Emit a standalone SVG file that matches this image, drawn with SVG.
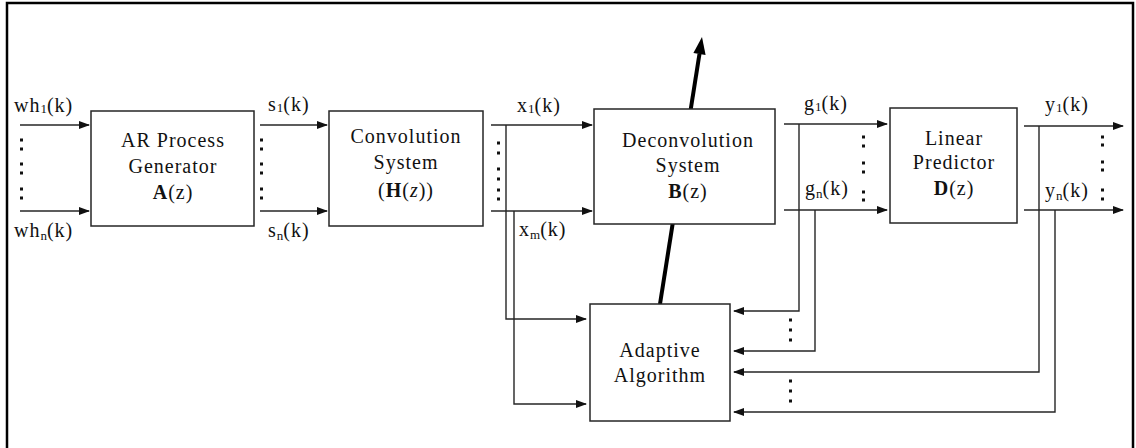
<svg xmlns="http://www.w3.org/2000/svg" width="1136" height="448" viewBox="0 0 1136 448">
<style>
.box{fill:#fff;stroke:#262626;stroke-width:1.5}
.ln{fill:none;stroke:#262626;stroke-width:1.4}
.t{font-family:"Liberation Serif","Times New Roman",serif;font-size:20px;letter-spacing:1px;fill:#111}
.c{text-anchor:middle}
.s{font-size:13px;letter-spacing:0}
.d{fill:#111}
</style>
<defs>
<marker id="ah" markerUnits="userSpaceOnUse" markerWidth="12" markerHeight="10" refX="10" refY="4" orient="auto">
<path d="M0,0 L11,4 L0,8 z" fill="#111"/>
</marker>
</defs>
<rect x="7" y="3" width="1126" height="460" fill="#fff" stroke="#000" stroke-width="2.5"/>
<g id="connectors">
<line x1="660" y1="304" x2="699.5" y2="53.8" stroke="#000" stroke-width="4"/>
<polygon points="702,37 705.6,55 693.4,53" fill="#000"/>
<line class="ln" x1="20" y1="125" x2="89" y2="125" marker-end="url(#ah)"/>
<line class="ln" x1="20" y1="211" x2="89" y2="211" marker-end="url(#ah)"/>
<line class="ln" x1="260" y1="125" x2="327" y2="125" marker-end="url(#ah)"/>
<line class="ln" x1="260" y1="211" x2="327" y2="211" marker-end="url(#ah)"/>
<line class="ln" x1="491" y1="125" x2="592" y2="125" marker-end="url(#ah)"/>
<line class="ln" x1="491" y1="211" x2="592" y2="211" marker-end="url(#ah)"/>
<line class="ln" x1="784" y1="124" x2="887" y2="124" marker-end="url(#ah)"/>
<line class="ln" x1="784" y1="210" x2="887" y2="210" marker-end="url(#ah)"/>
<line class="ln" x1="1024" y1="126" x2="1123" y2="126" marker-end="url(#ah)"/>
<line class="ln" x1="1024" y1="210" x2="1123" y2="210" marker-end="url(#ah)"/>
<polyline class="ln" points="506,125 506,319 586,319" marker-end="url(#ah)"/>
<polyline class="ln" points="514,211 514,404 586,404" marker-end="url(#ah)"/>
<polyline class="ln" points="799,124 799,311 734,311" marker-end="url(#ah)"/>
<polyline class="ln" points="815,210 815,351 734,351" marker-end="url(#ah)"/>
<polyline class="ln" points="1039,126 1039,372 734,372" marker-end="url(#ah)"/>
<polyline class="ln" points="1055,210 1055,412 734,412" marker-end="url(#ah)"/>
</g>
<g id="dots" class="d">
<rect x="20" y="138.5" width="3" height="3"/><rect x="20" y="147.5" width="3" height="3"/>
<rect x="20" y="162.5" width="3" height="3"/><rect x="20" y="171.5" width="3" height="3"/>
<rect x="20" y="187.5" width="3" height="3"/><rect x="20" y="196.5" width="3" height="3"/>
<rect x="260" y="138.5" width="3" height="3"/><rect x="260" y="147.5" width="3" height="3"/>
<rect x="260" y="162.5" width="3" height="3"/><rect x="260" y="171.5" width="3" height="3"/>
<rect x="260" y="187.5" width="3" height="3"/><rect x="260" y="196.5" width="3" height="3"/>
<rect x="497" y="141.5" width="3" height="3"/><rect x="497" y="151.5" width="3" height="3"/>
<rect x="497" y="167.5" width="3" height="3"/><rect x="497" y="177.5" width="3" height="3"/>
<rect x="497" y="188.5" width="3" height="3"/><rect x="497" y="197.5" width="3" height="3"/>
<rect x="862" y="135.5" width="3" height="3"/><rect x="862" y="144.5" width="3" height="3"/>
<rect x="862" y="161.5" width="3" height="3"/><rect x="862" y="170.5" width="3" height="3"/>
<rect x="862" y="190.5" width="3" height="3"/><rect x="862" y="198.5" width="3" height="3"/>
<rect x="1101" y="135.5" width="3" height="3"/><rect x="1101" y="143.5" width="3" height="3"/>
<rect x="1101" y="160.5" width="3" height="3"/><rect x="1101" y="168.5" width="3" height="3"/>
<rect x="1101" y="188.5" width="3" height="3"/><rect x="1101" y="197.5" width="3" height="3"/>
<rect x="789" y="318.5" width="3" height="3"/><rect x="789" y="328.5" width="3" height="3"/><rect x="789" y="338.5" width="3" height="3"/>
<rect x="789" y="379.5" width="3" height="3"/><rect x="789" y="389.5" width="3" height="3"/><rect x="789" y="399.5" width="3" height="3"/>
</g>
<g id="labels" class="t">
<text x="14" y="112">wh<tspan class="s" dy="1">1</tspan><tspan dy="-1">(k)</tspan></text>
<text x="14" y="237">wh<tspan class="s" dy="3">n</tspan><tspan dy="-3">(k)</tspan></text>
<text x="268" y="111">s<tspan class="s" dy="1">1</tspan><tspan dy="-1">(k)</tspan></text>
<text x="268" y="237">s<tspan class="s" dy="3">n</tspan><tspan dy="-3">(k)</tspan></text>
<text x="517" y="112">x<tspan class="s" dy="1">1</tspan><tspan dy="-1">(k)</tspan></text>
<text x="519" y="236">x<tspan class="s" dy="3">m</tspan><tspan dy="-3">(k)</tspan></text>
<text x="804" y="110">g<tspan class="s" dy="1">1</tspan><tspan dy="-1">(k)</tspan></text>
<text x="805" y="195">g<tspan class="s" dy="3">n</tspan><tspan dy="-3">(k)</tspan></text>
<text x="1045" y="111">y<tspan class="s" dy="1">1</tspan><tspan dy="-1">(k)</tspan></text>
<text x="1045" y="197">y<tspan class="s" dy="3">n</tspan><tspan dy="-3">(k)</tspan></text>
</g>
<g id="nodeA">
<rect class="box" x="91" y="111" width="163" height="115"/>
<text class="t c" x="173" y="147">AR Process</text>
<text class="t c" x="173" y="173">Generator</text>
<text class="t c" x="173" y="199"><tspan font-weight="bold">A</tspan>(z)</text>
</g>
<g id="nodeH">
<rect class="box" x="329" y="111" width="154" height="115"/>
<text class="t c" x="406" y="143">Convolution</text>
<text class="t c" x="406" y="169">System</text>
<text class="t c" x="406" y="197">(<tspan font-weight="bold">H</tspan>(<tspan font-style="italic">z</tspan>))</text>
</g>
<g id="nodeB">
<rect class="box" x="594" y="109" width="181" height="115"/>
<text class="t c" x="688" y="147">Deconvolution</text>
<text class="t c" x="688" y="172">System</text>
<text class="t c" x="688" y="198"><tspan font-weight="bold">B</tspan>(z)</text>
</g>
<g id="nodeD">
<rect class="box" x="890" y="108" width="127" height="115"/>
<text class="t c" x="954" y="145">Linear</text>
<text class="t c" x="954" y="169">Predictor</text>
<text class="t c" x="954" y="195"><tspan font-weight="bold">D</tspan>(z)</text>
</g>
<g id="nodeAdaptive">
<rect class="box" x="590" y="304" width="140" height="117"/>
<text class="t c" x="660" y="357">Adaptive</text>
<text class="t c" x="660" y="382">Algorithm</text>
</g>
</svg>
